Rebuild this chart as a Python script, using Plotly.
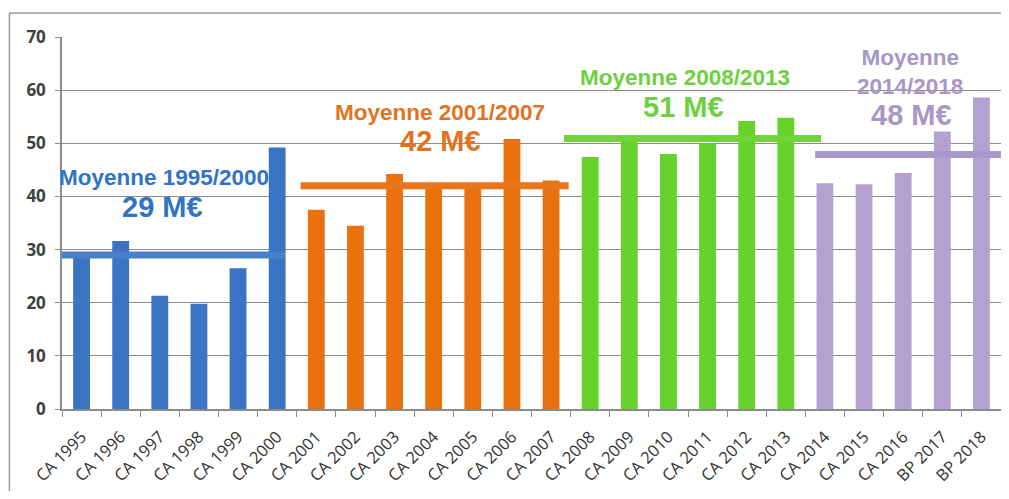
import plotly.graph_objects as go

categories = ["CA 1995", "CA 1996", "CA 1997", "CA 1998", "CA 1999", "CA 2000",
              "CA 2001", "CA 2002", "CA 2003", "CA 2004", "CA 2005", "CA 2006", "CA 2007",
              "CA 2008", "CA 2009", "CA 2010", "CA 2011", "CA 2012", "CA 2013",
              "CA 2014", "CA 2015", "CA 2016", "BP 2017", "BP 2018"]
values = [28.4, 31.6, 21.3, 19.8, 26.5, 49.2,
          37.5, 34.5, 44.2, 42.5, 42.5, 50.8, 43.0,
          47.4, 51.2, 48.0, 50.0, 54.2, 54.8,
          42.5, 42.3, 44.4, 52.2, 58.6]
period_names = ["1995/2000", "2001/2007", "2008/2013", "2014/2018"]
period_sizes = [6, 7, 6, 5]
period_means = [29.0, 42.0, 50.9, 47.9]
mean_labels = ["29 M€", "42 M€", "51 M€", "48 M€"]
bar_colors = ["#3b74c2", "#ea720e", "#67d22c", "#b2a2d2"]
line_colors = ["#4a80c8", "#e8761a", "#6ed43a", "#a898cc"]
text_colors = ["#2f74c6", "#e2731f", "#6dd13f", "#a697c7"]

colors = []
for c, n in zip(bar_colors, period_sizes):
    colors += [c] * n

fig = go.Figure()
fig.add_trace(go.Bar(
    x=categories, y=values, marker=dict(color=colors, line=dict(width=0)),
    width=0.43, showlegend=False, hoverinfo="x+y"))

# average lines (shapes on the category axis, positions as category indices)
start = 0
line_ext = [(-0.5, 0.2), (-0.4, 0.45), (-0.67, 0.9), (-0.25, 0.5)]
for i, n in enumerate(period_sizes):
    x0 = start + line_ext[i][0]
    x1 = start + n - 1 + line_ext[i][1]
    fig.add_shape(type="line", xref="x", yref="y",
                  x0=x0, x1=x1, y0=period_means[i], y1=period_means[i],
                  line=dict(color=line_colors[i], width=7), layer="above")
    start += n

# page body has an 8px margin: figure is sized/offset to compensate
fig.update_layout(
    width=993, height=483,
    margin=dict(l=54, r=0, t=29, b=82, autoexpand=False),
    paper_bgcolor="white", plot_bgcolor="white",
    font=dict(family="Liberation Sans, Arial", color="#404040"),
)
fig.update_xaxes(
    type="category", range=[-0.5, len(categories) - 0.5], automargin=False,
    tickangle=-45, tickfont=dict(family="Open Sans, sans-serif", size=16.5, color="#333333"),
    showline=True, linecolor="#8c8c8c", linewidth=1.5,
    ticks="outside", tickson="boundaries", ticklen=6, tickcolor="#8c8c8c",
    ticklabelstandoff=10,
    showgrid=False,
)
fig.update_yaxes(
    range=[0, 70], dtick=10, tick0=0, automargin=False,
    tickfont=dict(family="Open Sans, sans-serif", size=17, color="#404040", weight="bold"),
    showline=True, linecolor="#8c8c8c", linewidth=1.5,
    ticks="outside", ticklen=5, tickcolor="#8c8c8c", ticklabelstandoff=6,
    showgrid=True, gridcolor="#8c8c8c", gridwidth=1.2,
    zeroline=False,
)

# outer frame
fig.add_shape(type="line", xref="paper", yref="paper",
              x0=-0.056, x1=1.01, y0=1.0645, y1=1.0645,
              line=dict(color="#9a9a9a", width=1.5))
fig.add_shape(type="line", xref="paper", yref="paper",
              x0=-0.056, x1=-0.056, y0=1.0645, y1=-0.3,
              line=dict(color="#9a9a9a", width=1.5))

# annotations (positions in paper coords)
ann = [
    dict(x=0.1086, y0=0.621, xm=0.1065, y1=0.543, title="Moyenne 1995/2000"),
    dict(x=0.4026, y0=0.798, xm=0.4036, y1=0.720, title="Moyenne 2001/2007"),
    dict(x=0.6635, y0=0.892, xm=0.6615, y1=0.812, title="Moyenne 2008/2013"),
    dict(x=0.9030, y0=0.907, xm=0.9050, y1=0.790, title="Moyenne<br>2014/2018"),
]
for i, a in enumerate(ann):
    fig.add_annotation(xref="paper", yref="paper", x=a["x"], y=a["y0"],
                       text="<b>" + a["title"] + "</b>", showarrow=False,
                       font=dict(family="Liberation Sans, Arial", size=22.5, color=text_colors[i]),
                       xanchor="center", yanchor="middle", align="center")
    fig.add_annotation(xref="paper", yref="paper", x=a["xm"], y=a["y1"],
                       text="<b>" + mean_labels[i] + "</b>", showarrow=False,
                       font=dict(family="Liberation Sans, Arial", size=29, color=text_colors[i]),
                       xanchor="center", yanchor="middle")

fig.write_html("out.html")
